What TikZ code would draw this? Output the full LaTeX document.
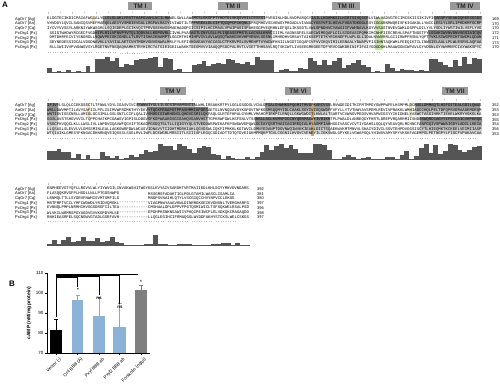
\documentclass[tikz,border=0pt]{standalone}
\usepackage{fontspec}
\setmainfont{Liberation Sans}
\setmonofont{Liberation Mono}
\definecolor{shade}{HTML}{9C9C9C}
\definecolor{tmgray}{HTML}{9A9A9A}
\definecolor{histgray}{HTML}{555555}
\definecolor{barblue}{HTML}{8CB2D8}
\definecolor{bargray}{HTML}{7F7F7F}
\definecolor{lgreen}{HTML}{CFE6B2}
\definecolor{lyellow}{HTML}{F3E3B0}
\definecolor{lorange}{HTML}{D9A860}
\pgfmathdeclarerandomlist{aa}{{A}{C}{D}{E}{F}{G}{H}{I}{K}{L}{M}{N}{P}{Q}{R}{S}{T}{V}{W}{Y}{L}{L}{A}{V}{I}{G}{S}}
\newcommand\mkseq[2]{\gdef#1{}\foreach \ii in {1,...,#2}{\pgfmathrandomitem{\myc}{aa}\xdef#1{#1\myc}}}
\newcommand\mkdash[2]{\gdef#1{}\foreach \ii in {1,...,#2}{\xdef#1{#1-{}}}}
\tikzset{
  seq/.style={font=\ttfamily\fontsize{4}{4}\selectfont, inner sep=0pt, anchor=west},
  nm/.style={font=\fontsize{4}{4}\selectfont, inner sep=0pt, anchor=west},
  tmbox/.style={fill=tmgray, font=\bfseries\fontsize{6.5}{6.5}\selectfont, inner sep=0pt, minimum height=8pt, text=black!85},
  hbar/.style={fill=histgray},
  panel/.style={font=\bfseries\fontsize{8}{8}\selectfont, inner sep=0pt},
  ticklab/.style={font=\fontsize{4.5}{4.5}\selectfont, inner sep=0pt, anchor=east},
  xlab/.style={font=\fontsize{4.5}{4.5}\selectfont, inner sep=0pt, anchor=north east, rotate=45},
  sig/.style={font=\bfseries\fontsize{4.5}{4.5}\selectfont, inner sep=0pt},
}
\begin{document}
\begin{tikzpicture}[x=1pt,y=-1pt]
\pgfmathsetseed{11}
\useasboundingbox (0,0) rectangle (500,390);
\node[panel, anchor=north west] (A) at (2,2) {A};
\node[panel, anchor=north west] (B) at (9,281) {B};

% ===================== Block 1 =====================
\fill[shade] (103,16.6) rectangle (170,30.9);
\fill[shade] (95,30.9) rectangle (170,49.9);
\fill[shade] (192,16.6) rectangle (265,21.4);
\fill[shade] (192,21.4) rectangle (250,30.9);
\fill[shade] (190,30.9) rectangle (272,49.9);
\fill[shade] (311,16.6) rectangle (368,49.9);
\fill[lgreen] (375,16.6) rectangle (383,49.9);
\fill[shade] (434,16.6) rectangle (482,30.9);
\fill[shade] (428,30.9) rectangle (482,49.9);
\fill[lyellow] (92,16.6) rectangle (95,21.4);
\node[tmbox, minimum width=24pt] (tm1) at (140,6.5) {TM I};
\node[tmbox, minimum width=30pt] (tm2) at (233,6.5) {TM II};
\node[tmbox, minimum width=28pt] (tm3) at (346,6.5) {TM III};
\node[tmbox, minimum width=30pt] (tm4) at (465,6.5) {TM IV};
\foreach \k in {0,...,36} {\node[seq] (ra\k) at ({47+12*\k},13.5) {\ifodd\k .\else :\fi};}
\foreach \r/\n/\e in {0/AgOr7 [Ag]/169,1/AaOr7 [Aa]/170,2/CqOr7 [Cq]/170,3/PxOrg1 [Px]/172,4/PxOrg2 [Px]/171,5/PxOrg3 [Px]/173,6/PxOrg4 [Px]/170} {
  \node[nm] (na\r) at (15,{19+4.75*\r}) {\n};
  \ifnum\r<3 \mkseq\rowseq{181}\node[seq] (sa\r) at (47,{19+4.75*\r}) {\rowseq};
  \else \mkseq\rowseq{180}\node[seq] (sa\r) at (49.4,{19+4.75*\r}) {\rowseq};\fi
  \node[nm] (ea\r) at (492,{19+4.75*\r}) {\e};
}
\foreach \k in {0,...,17} {\node[seq] (ca\k) at ({47+24*\k},53) {\ifnum\k=3 ...:......\else.........\fi};}
\fill[histgray] (47,73) rectangle (482,72.2);
\foreach \k in {0,...,89} {
  \pgfmathsetmacro\xx{47+4.83*\k}
  \pgfmathsetmacro\hh{ifthenelse(((\xx>95)&&(\xx<170))||((\xx>190)&&(\xx<272))||((\xx>305)&&(\xx<368))||((\xx>428)&&(\xx<482)),5+rnd*11,0.8+rnd*rnd*9)}
  \fill[hbar] (\xx,73) rectangle ({\xx+4.83},{73-\hh});
}

% ===================== Block 2 =====================
\fill[shade] (47,103.1) rectangle (58,136.4);
\fill[lyellow] (87,103.1) rectangle (90,117.4);
\fill[shade] (137,103.1) rectangle (195,107.9);
\fill[shade] (147,107.9) rectangle (208,136.4);
\fill[shade] (265,103.1) rectangle (330,117.4);
\fill[shade] (255,117.4) rectangle (330,136.4);
\fill[lorange] (311,103.1) rectangle (314,136.4);
\fill[lyellow] (409,103.1) rectangle (412,117.4);
\fill[shade] (415,103.1) rectangle (480,117.4);
\fill[shade] (420,117.4) rectangle (482,136.4);
\node[tmbox, minimum width=26pt] (tm5) at (173,91) {TM V};
\node[tmbox, minimum width=26pt] (tm6) at (298,91) {TM VI};
\node[tmbox, minimum width=26pt] (tm7) at (455,91) {TM VII};
\foreach \k in {0,...,36} {\node[seq] (rb\k) at ({47+12*\k},100) {\ifodd\k .\else :\fi};}
\foreach \r/\n/\e in {0/AgOr7 [Ag]/352,1/AaOr7 [Aa]/353,2/CqOr7 [Cq]/353,3/PxOrg1 [Px]/355,4/PxOrg2 [Px]/354,5/PxOrg3 [Px]/356,6/PxOrg4 [Px]/353} {
  \node[nm] (nb\r) at (15,{105.5+4.75*\r}) {\n};
  \mkseq\rowseq{181}\node[seq] (sb\r) at (47,{105.5+4.75*\r}) {\rowseq};
  \node[nm] (eb\r) at (492,{105.5+4.75*\r}) {\e};
}
\foreach \k in {0,...,17} {\node[seq] (cb\k) at ({47+24*\k},139.5) {.........};}
\fill[histgray] (47,160) rectangle (482,159.2);
\foreach \k in {0,...,89} {
  \pgfmathsetmacro\xx{47+4.83*\k}
  \pgfmathsetmacro\hh{ifthenelse(((\xx>45)&&(\xx<60))||((\xx>137)&&(\xx<208))||((\xx>255)&&(\xx<330))||((\xx>415)&&(\xx<482)),6+rnd*11,0.8+rnd*rnd*10)}
  \fill[hbar] (\xx,160) rectangle ({\xx+4.83},{160-\hh});
}

% ===================== Block 3 =====================
\foreach \k in {0,...,6} {\node[seq] (rc\k) at ({47+12*\k},184.5) {\ifodd\k .\else :\fi};}
\foreach \r/\n/\e in {0/AgOr7 [Ag]/392,1/AaOr7 [Aa]/381,2/CqOr7 [Cq]/380,3/PxOrg1 [Px]/397,4/PxOrg2 [Px]/396,5/PxOrg3 [Px]/398,6/PxOrg4 [Px]/397} {
  \node[nm] (nc\r) at (15,{189+4.75*\r}) {\n};
  \node[nm] (ec\r) at (257,{189+4.75*\r}) {\e};
}
\mkseq\rowseq{84}\node[seq] (sc0) at (47,189) {\rowseq};
\foreach \r in {1,2} {
  \mkseq\rowseq{30}\node[seq] (sca\r) at (47,{189+4.75*\r}) {\rowseq};
  \mkseq\rowseq{36}\node[seq] (scb\r) at (148,{189+4.75*\r}) {\rowseq};
}
\foreach \r in {3,...,6} {
  \mkseq\rowseq{30}\node[seq] (sca\r) at (47,{189+4.75*\r}) {\rowseq};
  \mkdash\rowdash{12}\node[seq] (scd\r) at (119,{189+4.75*\r}) {\rowdash};
  \mkseq\rowseq{42}\node[seq] (scb\r) at (148,{189+4.75*\r}) {\rowseq};
}
\foreach \k in {0,...,7} {\node[seq] (cc\k) at ({47+24*\k},222) {.........};}
\fill[histgray] (47,246) rectangle (250,245.2);
\foreach \k in {0,...,41} {
  \pgfmathsetmacro\xx{47+4.83*\k}
  \pgfmathsetmacro\hh{ifthenelse((\xx<120),1+rnd*8,ifthenelse((\xx>150)&&(\xx<156),11,0.5+rnd*2.5))}
  \fill[hbar] (\xx,246) rectangle ({\xx+4.83},{246-\hh});
}

% ===================== Panel B =====================
\fill[black] (50,353) rectangle (62,330);
\fill[barblue] (72,353) rectangle (83,300);
\fill[barblue] (93,353) rectangle (105,316);
\fill[barblue] (113,353) rectangle (126,327);
\fill[bargray] (135,353) rectangle (147,290);
\draw[line width=0.6pt] (56,330) -- (56,319) (54,319) -- (58,319);
\draw[line width=0.6pt, barblue!80!gray] (77.5,300) -- (77.5,295) (75.5,295) -- (79.5,295);
\draw[line width=0.6pt, barblue!80!gray] (99,316) -- (99,297) (97,297) -- (101,297);
\draw[line width=0.6pt, barblue!80!gray] (119.5,327) -- (119.5,303) (117.5,303) -- (121.5,303);
\draw[line width=0.6pt, bargray] (141,290) -- (141,285) (139,285) -- (143,285);
\draw[line width=0.7pt] (47,273) -- (47,353) -- (150,353);
\foreach \v/\y in {70/353,80/333,90/313,100/293,110/273} {
  \draw[line width=0.5pt] (47,\y) -- (45,\y);
  \node[ticklab] (yt\v) at (43.5,\y) {\v};
}
\foreach \c in {56,77.5,99,119.5,141} {\draw[line width=0.5pt] (\c,353) -- (\c,355);}
\node[font=\bfseries\fontsize{5}{5}\selectfont, rotate=90, inner sep=0pt] (ylab) at (29,313) {cAMP (nM/mg protein)};
\draw[line width=0.8pt] (56,274) -- (138,274);
\draw[line width=1.2pt] (56,275.2) -- (119.5,275.2);
\draw[line width=1.4pt] (56,276.4) -- (99,276.4);
\draw[line width=1.4pt] (56,277.4) -- (77.5,277.4);
\draw[line width=0.6pt] (56,274) -- (56,317);
\draw[line width=0.6pt] (77.5,277) -- (77.5,287);
\draw[line width=0.6pt] (99,276) -- (99,295);
\draw[line width=0.6pt] (119.5,275) -- (119.5,304);
\node[sig] (s2) at (78,289.5) {*};
\node[sig] (s3) at (99,298.5) {ns};
\node[sig] (s4) at (120,307) {ns};
\node[sig] (s5) at (141,281.5) {*};
\node[xlab] (x1) at (59,357) {Vector (-)};
\node[xlab] (x2) at (80.5,357) {Or4 BBB (A)};
\node[xlab] (x3) at (102,357) {Pxyl BBB ab};
\node[xlab] (x4) at (122.5,357) {Pxyl2 BBB ab};
\node[xlab] (x5) at (144,357) {Forskolin (ng/μl)};
\end{tikzpicture}
\end{document}
